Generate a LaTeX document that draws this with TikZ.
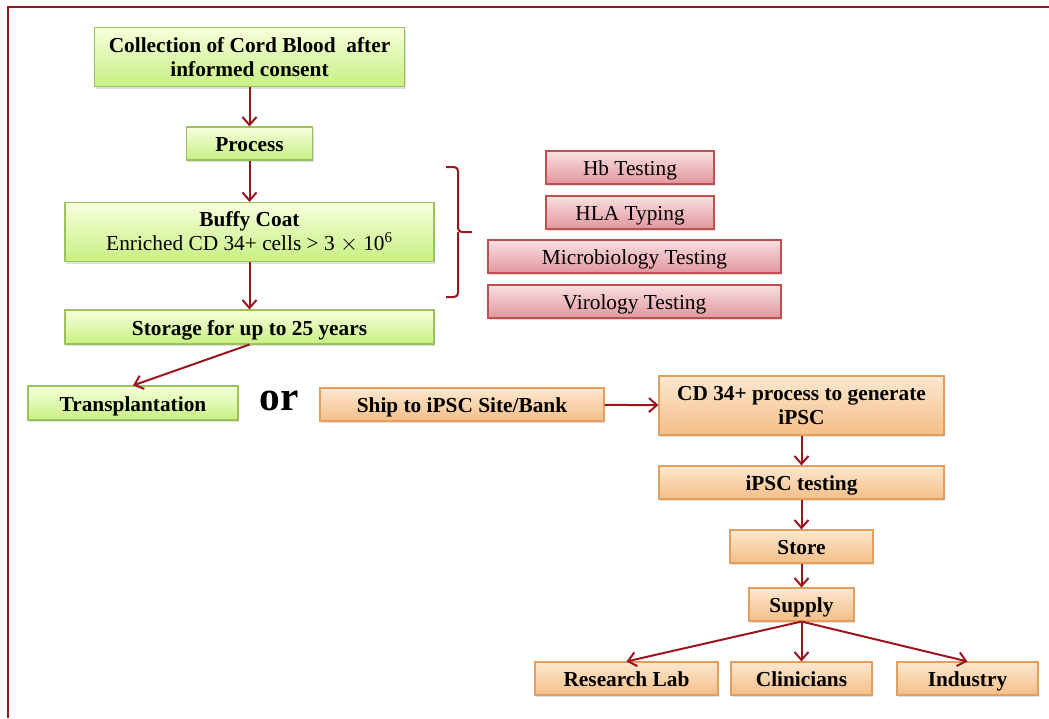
\documentclass[tikz,border=0pt]{standalone}
\usepackage{fontspec}
\setmainfont{Liberation Serif}
\usetikzlibrary{arrows.meta, positioning, shadows}
\definecolor{frameRed}{RGB}{155,20,30}
\definecolor{greenTop}{RGB}{246,255,220}
\definecolor{greenBot}{RGB}{200,240,130}
\definecolor{greenLine}{RGB}{155,195,90}
\definecolor{orangeTop}{RGB}{252,232,208}
\definecolor{orangeBot}{RGB}{244,190,135}
\definecolor{orangeLine}{RGB}{225,160,95}
\definecolor{redTop}{RGB}{250,224,226}
\definecolor{redBot}{RGB}{225,150,158}
\definecolor{redLine}{RGB}{190,80,80}
\tikzstyle{box} = [draw, rectangle, line width=0.8pt, inner sep=1pt,
    minimum height=24.75pt, align=center, text height=12.5pt, text depth=0.5pt,
    font=\fontsize{16}{18.5}\selectfont,
    drop shadow={opacity=0.25, shadow xshift=1pt, shadow yshift=-1.5pt}]
\tikzstyle{twoline} = [minimum height=44.25pt, text height={}, text depth={}]
\tikzstyle{stage} = [box, draw=greenLine, top color=greenTop, bottom color=greenBot, font=\fontsize{16}{18.5}\selectfont\bfseries]
\tikzstyle{ipsc} = [box, draw=orangeLine, top color=orangeTop, bottom color=orangeBot, font=\fontsize{16}{18.5}\selectfont\bfseries]
\tikzstyle{test} = [box, draw=redLine, top color=redTop, bottom color=redBot]
\tikzstyle{flow} = [draw=frameRed, line width=1.5pt, -{Straight Barb[length=6pt,width=10.5pt]}]

\begin{document}
\begin{tikzpicture}[x=0.75pt, y=-0.75pt]
    \useasboundingbox (0,0) rectangle (1049,718);
    \draw [frameRed, line width=1.5pt] (8,718) -- (8,7) -- (1049,7);

    % cord blood banking
    \node [stage, twoline, minimum width=232.5pt] (collect) at (249.5,57)
        {Collection of Cord Blood\ \ after\\informed consent};
    \node [stage, minimum width=94.5pt] (process) at (249.5,143.5) {Process};
    \node [stage, twoline, minimum width=276.75pt] (buffy) at (249.5,232)
        {Buffy Coat\\\mdseries Enriched CD 34+ cells > 3 $\times$ 10\textsuperscript{6}};
    \node [stage, minimum width=276.75pt, minimum height=25.5pt] (storage) at (249.5,327) {Storage for up to 25 years};
    \node [stage, minimum width=157.5pt, minimum height=25.5pt] (transplant) at (133,403) {Transplantation};
    \node [font=\fontsize{31}{31}\selectfont\bfseries] (or) at (279,401) {or};

    % tests on the buffy coat
    \node [test, minimum width=126pt] (hb) at (630,167.5) {Hb Testing};
    \node [test, minimum width=126pt] (hla) at (630,212.5) {HLA Typing};
    \node [test, minimum width=219.75pt] (micro) at (634.5,256.5) {Microbiology Testing};
    \node [test, minimum width=219.75pt] (viro) at (634.5,301.5) {Virology Testing};
    \draw [frameRed, line width=1.5pt, rounded corners=3pt]
        (446,167) -- (458,167) -- (458,232) -- (472,232) (458,232) -- (458,297) -- (446,297);

    % iPSC route
    \node [ipsc, minimum width=213pt] (ship) at (462,404.5) {Ship to iPSC Site/Bank};
    \node [ipsc, twoline, minimum width=213.75pt] (cd34) at (801.5,405.5)
        {CD 34+ process to generate\\iPSC};
    \node [ipsc, minimum width=213.75pt] (testing) at (801.5,482.5) {iPSC testing};
    \node [ipsc, minimum width=107.25pt] (store) at (801.5,546.5) {Store};
    \node [ipsc, minimum width=78.75pt] (supply) at (801.5,604.5) {Supply};
    \node [ipsc, minimum width=137.25pt] (research) at (626.5,678.5) {Research Lab};
    \node [ipsc, minimum width=105.75pt] (clinicians) at (801.5,678.5) {Clinicians};
    \node [ipsc, minimum width=105.75pt] (industry) at (967.5,678.5) {Industry};

    \draw [flow] (collect) -- (process);
    \draw [flow] (process) -- (buffy);
    \draw [flow] (buffy) -- (storage);
    \draw [flow] (storage.south) -- (transplant.north);
    \draw [flow] (ship) -- (cd34);
    \draw [flow] (cd34) -- (testing);
    \draw [flow] (testing) -- (store);
    \draw [flow] (store) -- (supply);
    \draw [flow] (supply.south) -- (research.north);
    \draw [flow] (supply.south) -- (clinicians.north);
    \draw [flow] (supply.south) -- (industry.north);
\end{tikzpicture}
\end{document}
